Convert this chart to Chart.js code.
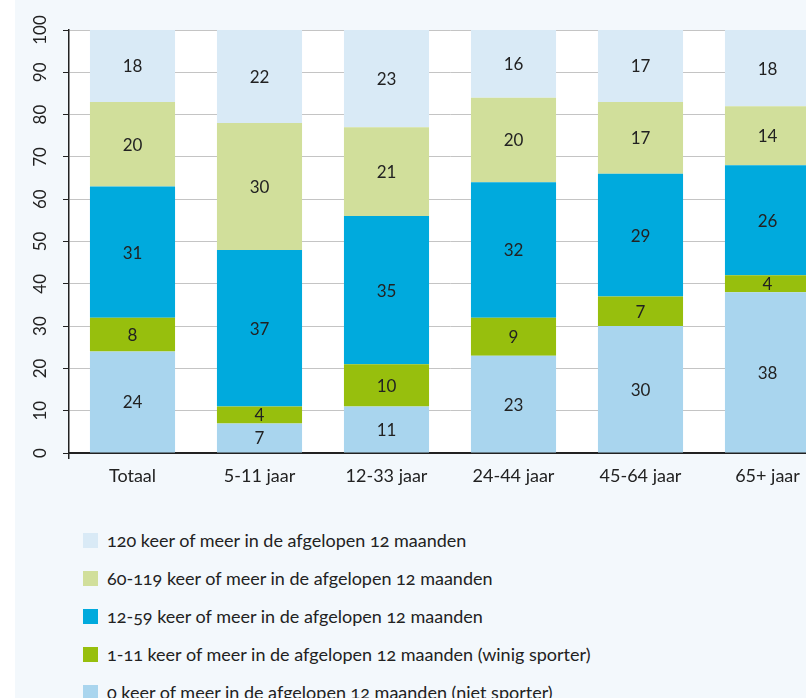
<!DOCTYPE html>
<html>
<head>
<meta charset="utf-8">
<script src="https://cdn.jsdelivr.net/npm/chart.js@4/dist/chart.umd.min.js"></script>
<style>
  html, body { margin: 0; padding: 0; width: 806px; height: 698px; overflow: hidden; background: #f3f8fc; font-family: Lato, "Open Sans", sans-serif; }
  #strip { position: absolute; left: 0; top: 0; width: 15px; height: 698px; background: #ffffff; }
  #wrap { position: absolute; left: 0; top: 0; width: 831px; height: 510px; }
  #legend { position: absolute; left: 83px; top: 0; }
  .item { position: absolute; left: 0; white-space: nowrap; font-size: 18px; color: #222; height: 22px; line-height: 22px; font-variant-numeric: oldstyle-nums; }
  .sw { position: absolute; left: 0; top: 4px; width: 15px; height: 15px; }
  .tx { position: absolute; left: 24px; top: 0; }
</style>
</head>
<body>
<div id="strip"></div>
<div id="wrap"><canvas id="c" width="831" height="510"></canvas></div>
<div id="legend"></div>
<script>
// ---- data ----
const categories = ['Totaal', '5-11 jaar', '12-33 jaar', '24-44 jaar', '45-64 jaar', '65+ jaar'];
const nietSporter = [24, 7, 11, 23, 30, 38];      // 0 keer
const winigSporter = [8, 4, 10, 9, 7, 4];         // 1-11 keer
const keer12tot59 = [31, 37, 35, 32, 29, 26];
const keer60tot119 = [20, 30, 21, 20, 17, 14];
const keer120plus = [18, 22, 23, 16, 17, 18];
const seriesNames = [
  '0 keer of meer in de afgelopen 12 maanden (niet sporter)',
  '1-11 keer of meer in de afgelopen 12 maanden (winig sporter)',
  '12-59 keer of meer in de afgelopen 12 maanden',
  '60-119 keer of meer in de afgelopen 12 maanden',
  '120 keer of meer in de afgelopen 12 maanden'
];
const yTickValues = [0, 10, 20, 30, 40, 50, 60, 70, 80, 90, 100];

// ---- styles ----
const colors = ['#a9d5ee', '#97bf0d', '#00aadd', '#d1df9b', '#d9eaf6'];
const FONT = 'Lato, "Open Sans", sans-serif';
const TEXT = '#222222';

const seriesValues = [nietSporter, winigSporter, keer12tot59, keer60tot119, keer120plus];
const datasets = seriesValues.map((vals, i) => ({
  label: seriesNames[i],
  data: vals,
  backgroundColor: colors[i],
  borderWidth: 0,
  barPercentage: 0.67,
  categoryPercentage: 1.0,
  stack: 's'
}));

const plotBg = {
  id: 'plotBg',
  beforeDraw(chart) {
    const a = chart.chartArea, ctx = chart.ctx;
    ctx.save();
    ctx.fillStyle = '#ffffff';
    ctx.fillRect(a.left, a.top, a.right - a.left, a.bottom - a.top);
    ctx.restore();
  }
};

const yLabels = {
  id: 'yLabels',
  afterDraw(chart) {
    const s = chart.scales.y, ctx = chart.ctx;
    ctx.save();
    ctx.fillStyle = TEXT;
    ctx.font = '17px ' + FONT;
    ctx.textAlign = 'center';
    ctx.textBaseline = 'middle';
    yTickValues.forEach(v => {
      const y = s.getPixelForValue(v);
      ctx.save();
      ctx.translate(41, y);
      ctx.rotate(-Math.PI / 2);
      ctx.fillText(String(v), 0, 0);
      ctx.restore();
    });
    ctx.restore();
  }
};

const valueLabels = {
  id: 'valueLabels',
  afterDatasetsDraw(chart) {
    const ctx = chart.ctx;
    ctx.save();
    ctx.fillStyle = TEXT;
    ctx.font = '17px ' + FONT;
    ctx.textAlign = 'center';
    ctx.textBaseline = 'middle';
    chart.data.datasets.forEach((ds, di) => {
      const meta = chart.getDatasetMeta(di);
      meta.data.forEach((el, i) => {
        const top = Math.max(el.y, chart.chartArea.top);
        const y = (top + el.base) / 2;
        ctx.fillText(String(ds.data[i]), el.x, y + 1);
      });
    });
    ctx.restore();
  }
};

new Chart(document.getElementById('c'), {
  type: 'bar',
  data: { labels: categories, datasets },
  options: {
    responsive: false,
    animation: false,
    layout: { padding: { top: 30, left: 0, right: 0, bottom: 0 } },
    plugins: { legend: { display: false }, tooltip: { enabled: false } },
    scales: {
      x: {
        stacked: true,
        grid: {
          drawOnChartArea: false,
          drawTicks: true,
          tickLength: 6,
          lineWidth: 1.5,
          color: ctx => ctx.index === 0 ? '#222222' : 'rgba(0,0,0,0)'
        },
        border: { color: '#222222', width: 2 },
        ticks: { color: TEXT, font: { family: FONT, size: 18 }, padding: 6, maxRotation: 0 },
        afterFit: s => { s.height = 57; }
      },
      y: {
        stacked: true,
        min: 0,
        max: 100,
        ticks: { stepSize: 10, display: false },
        grid: { color: '#c4c4c4', tickColor: '#222222', tickLength: 6, lineWidth: 1 },
        border: { color: '#222222', width: 1.5 },
        afterFit: s => { s.width = 69; }
      }
    }
  },
  plugins: [plotBg, valueLabels, yLabels]
});

// ---- legend (top series first) ----
const legend = document.getElementById('legend');
const rowCenters = [540, 578, 616, 654, 692];
for (let k = 0; k < seriesNames.length; k++) {
  const i = seriesNames.length - 1 - k;
  const item = document.createElement('div');
  item.className = 'item';
  item.style.top = (rowCenters[k] - 11) + 'px';
  const sw = document.createElement('span');
  sw.className = 'sw';
  sw.style.background = colors[i];
  const tx = document.createElement('span');
  tx.className = 'tx';
  tx.textContent = seriesNames[i];
  item.appendChild(sw);
  item.appendChild(tx);
  legend.appendChild(item);
}
</script>
</body>
</html>
